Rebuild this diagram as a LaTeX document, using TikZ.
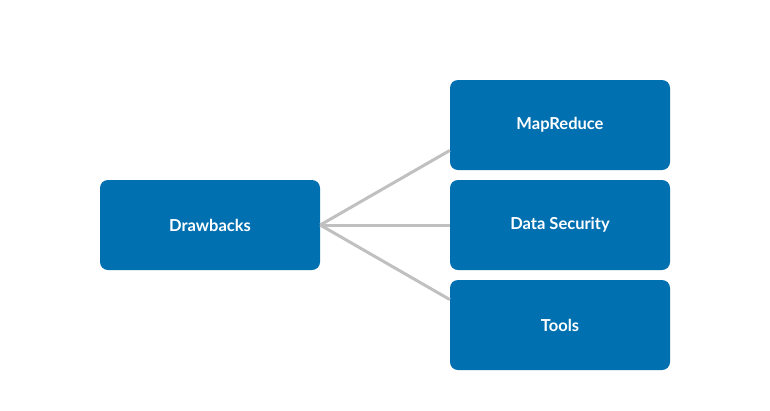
\documentclass[tikz,border=0pt]{standalone}
\usepackage{fontspec}
\setmainfont{Lato}
\begin{document}
\begin{tikzpicture}[x=1pt, y=-1pt, font=\fontsize{16.5}{20}\selectfont\bfseries,
  topic/.style={fill=boxblue, text=white, minimum width=220pt, minimum height=90pt, rounded corners=8pt, inner sep=0pt},
  link/.style={draw=linkgray, line width=3pt}]
\definecolor{boxblue}{RGB}{0,112,176}
\definecolor{linkgray}{RGB}{192,192,192}
\useasboundingbox (0,0) rectangle (770,410);
\node[topic] (dr) at (210,225) {Drawbacks};
\node[topic] (mr) at (560,125) {MapReduce};
\node[topic] (ds) at (560,225) {Data Security};
\node[topic] (tl) at (560,325) {Tools};
\draw[link] (dr.east) -- (mr.193);
\draw[link] (dr.east) -- (ds.west);
\draw[link] (dr.east) -- (tl.167);
\end{tikzpicture}
\end{document}
